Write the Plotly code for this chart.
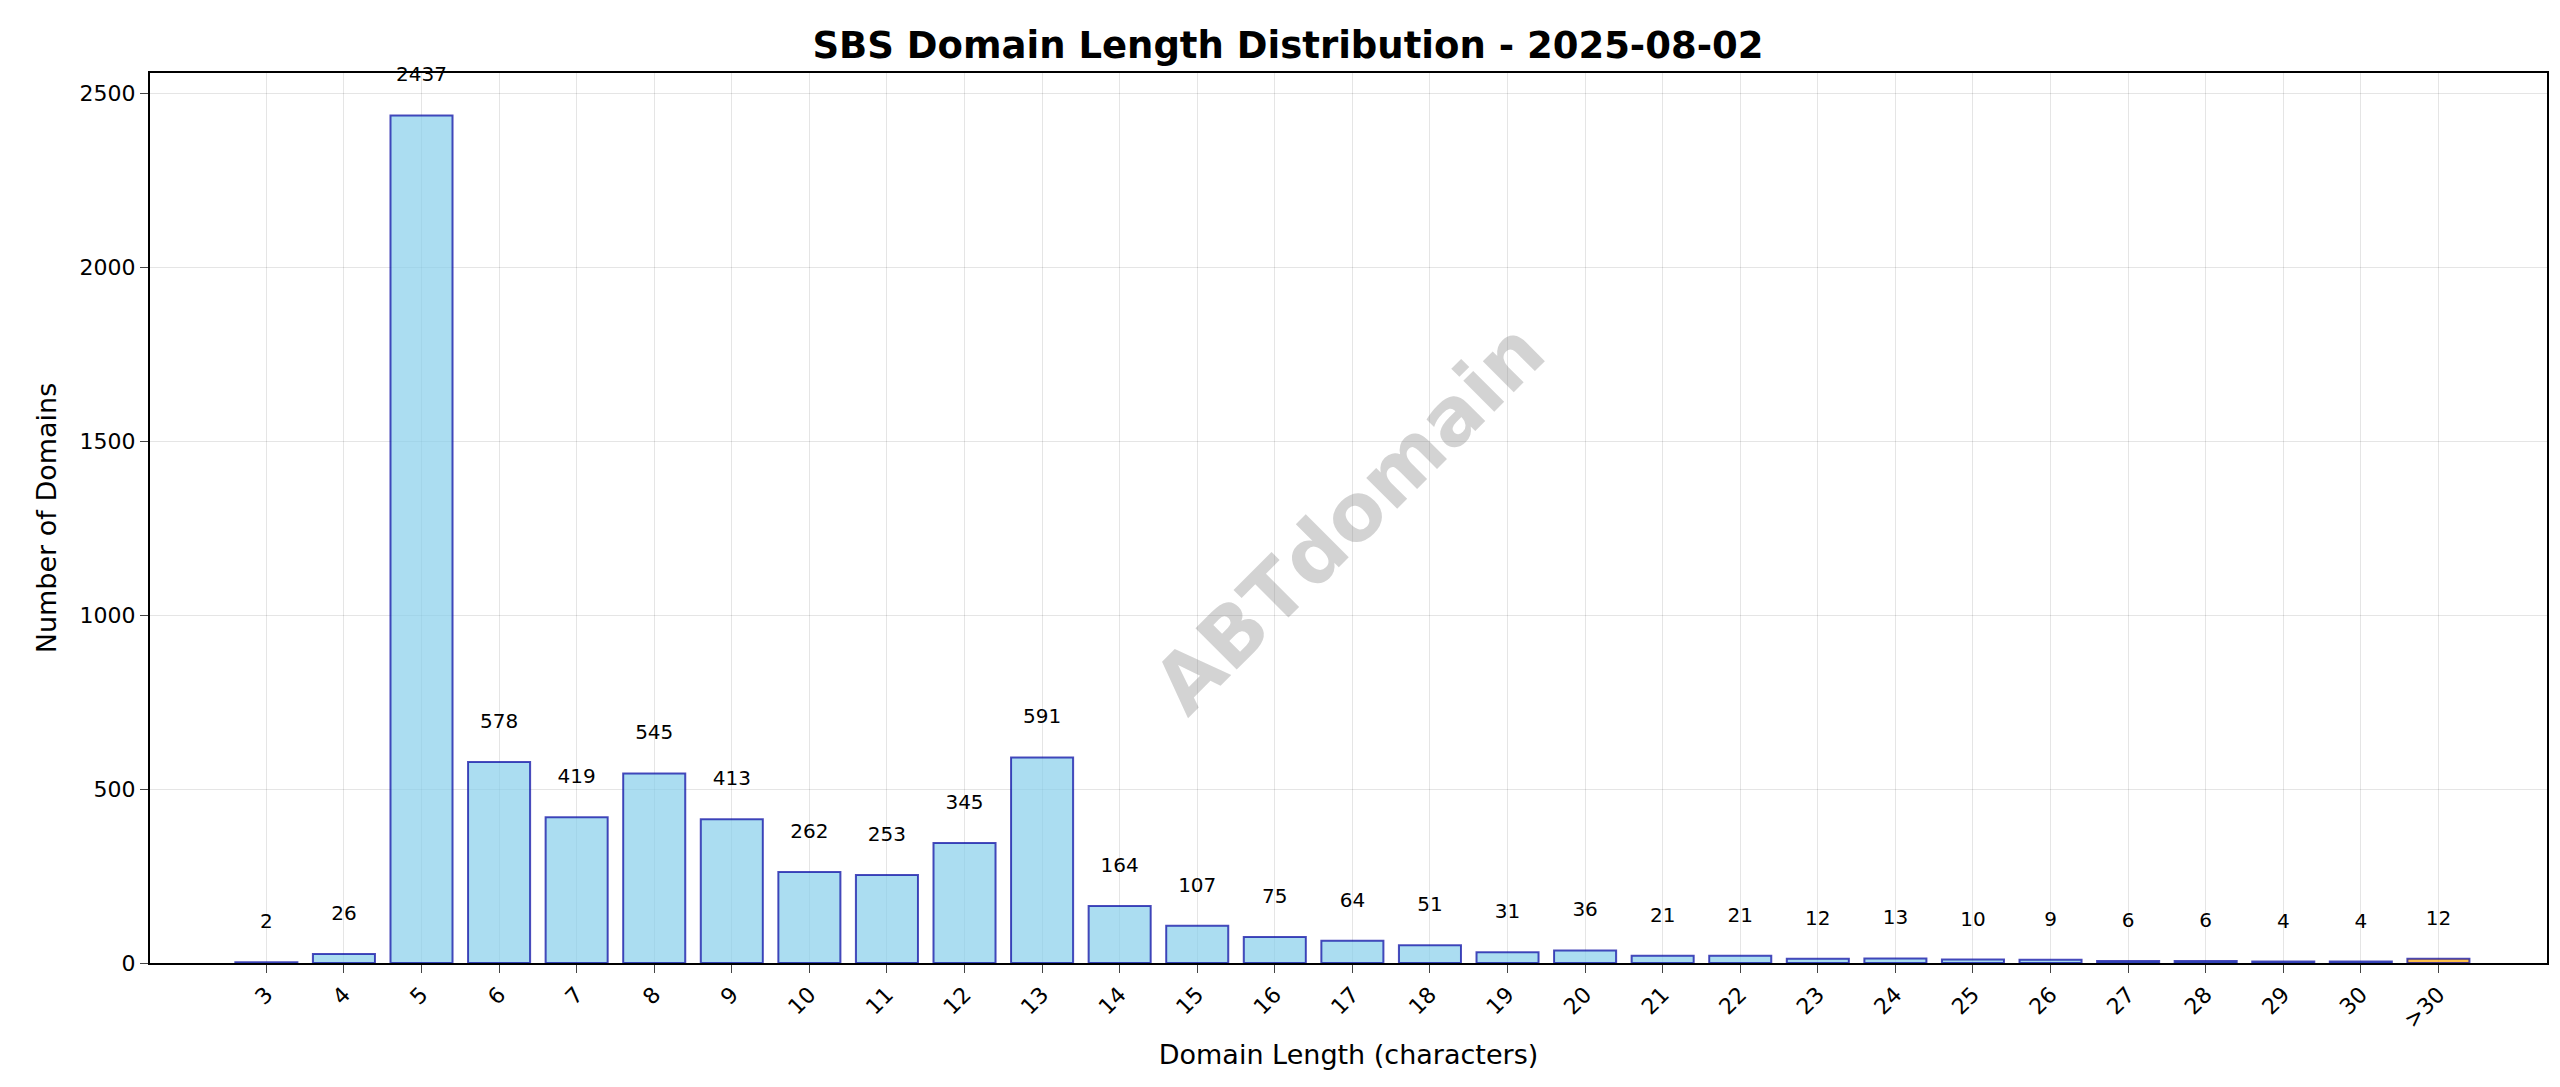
import plotly.graph_objects as go

# Domain length distribution
lengths = ['3', '4', '5', '6', '7', '8', '9', '10', '11', '12', '13', '14', '15', '16',
           '17', '18', '19', '20', '21', '22', '23', '24', '25', '26', '27', '28', '29',
           '30', '>30']
counts = [2, 26, 2437, 578, 419, 545, 413, 262, 253, 345, 591, 164, 107, 75,
          64, 51, 31, 36, 21, 21, 12, 13, 10, 9, 6, 6, 4, 4, 12]

colors = ['rgba(135,206,235,0.7)'] * (len(lengths) - 1) + ['rgba(255,165,0,0.7)']

fig = go.Figure()
fig.add_trace(go.Bar(
    x=lengths, y=counts,
    marker=dict(color=colors, line=dict(color='rgba(0,0,160,0.7)', width=2)),
    text=[str(c) for c in counts], textposition='outside',
    textfont=dict(size=20, color='black'), cliponaxis=False,
    width=0.8,
))
# push labels a little above the bars
fig.update_traces(texttemplate='%{text}<br> ')

fig.add_annotation(
    text='<b>ABTdomain</b>', xref='paper', yref='paper', x=0.5, y=0.5,
    showarrow=False, textangle=-45,
    font=dict(size=80, color='rgba(128,128,128,0.35)', family='DejaVu Sans'),
)

fig.update_layout(
    width=2560, height=1087,
    plot_bgcolor='white', paper_bgcolor='white',
    margin=dict(l=142, r=21, t=65, b=132),
    font=dict(family='DejaVu Sans', size=22, color='black'),
    title=dict(text='<b>SBS Domain Length Distribution - 2025-08-02</b>',
               x=0.5, xanchor='center', y=0.966, yanchor='middle', font=dict(size=37)),
    showlegend=False, bargap=0.2,
)
fig.update_xaxes(
    title=dict(text='Domain Length (characters)', font=dict(size=27), standoff=14),
    tickangle=-45, showgrid=True, gridcolor='rgba(0,0,0,0.1)',
    showline=True, linecolor='black', linewidth=2, mirror=True,
    ticks='outside', ticklen=8, tickfont=dict(size=22),
    range=[-1.5, len(lengths) - 0.5 + 0.9],
)
fig.update_yaxes(
    title=dict(text='Number of Domains', font=dict(size=27)),
    range=[0, 2559], tickvals=[0, 500, 1000, 1500, 2000, 2500],
    showgrid=True, gridcolor='rgba(0,0,0,0.1)',
    showline=True, linecolor='black', linewidth=2, mirror=True,
    ticks='outside', ticklen=8, tickfont=dict(size=22), zeroline=False,
)

fig.write_html('out.html')
